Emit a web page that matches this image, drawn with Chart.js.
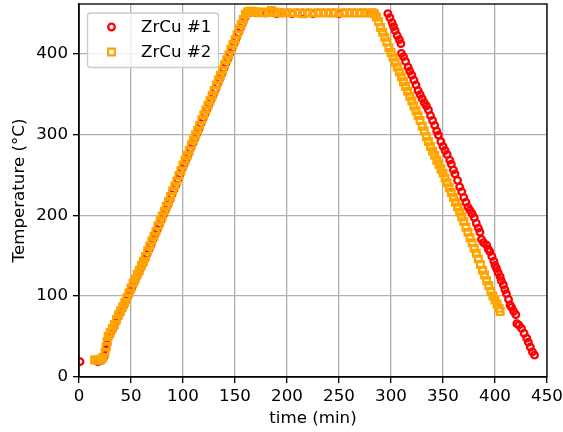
<!DOCTYPE html>
<html lang="en">
<head>
  <meta charset="UTF-8">
  <title>ZrCu temperature profile</title>
  <script src="https://cdn.jsdelivr.net/npm/chart.js"></script>
  <style>
    html, body {
      margin: 0;
      padding: 0;
      background-color: #ffffff;
    }
    .chart-box {
      width: 563px;
      height: 432px;
    }
  </style>
</head>
<body>

  <div class="chart-box">
    <canvas id="tempChart" width="563" height="432"></canvas>
  </div>

  <script>
    // ZrCu #1 (red circles)
    const time1 = [
      1, 18, 20, 22, 24, 26, 27,
      29, 31, 33, 35, 37, 39, 41, 43, 45, 47,
      49, 51, 53, 55, 57, 59, 61, 63, 65, 67,
      69, 71, 73, 75, 77, 79, 81, 83, 85, 87,
      89, 91, 93, 95, 97, 99, 101, 103, 105, 107,
      109, 111, 113, 115, 117, 119, 121, 123, 125, 127,
      129, 131, 133, 135, 137, 139, 141, 143, 145, 147,
      149, 151, 153, 155, 157, 159, 161, 163,
      166, 170, 175, 180, 185, 190, 195, 200, 205, 210,
      215, 220, 225, 230, 235, 240, 245, 250, 255, 260,
      265, 270, 275, 280, 284,
      297, 299, 301, 302.5, 304, 306, 308, 309.5,
      310, 312, 314, 316.5, 318, 320, 322, 324, 326, 328,
      330, 332, 334, 336, 338, 340, 342, 344, 345.5, 348,
      350, 352, 354, 356.5, 358, 360, 361.5, 364, 366, 368,
      370, 372, 374, 376, 378, 380, 382, 384, 385.5, 387,
      389, 392, 393.5, 395, 397, 399, 400, 401.5, 403, 405,
      406, 408, 409.5, 411, 413, 414.5, 416, 418, 420, 421,
      423, 425.5, 428, 430.5, 432, 434, 436, 438
    ];
    const temp1 = [
      19, 19, 20, 21, 25, 35, 41,
      51, 56, 61, 67, 73, 78, 83, 88, 94, 100,
      106, 111, 117, 123, 128, 134, 139, 145, 151, 157,
      163, 170, 176, 182, 188, 194, 200, 206, 212, 218,
      225, 231, 237, 244, 250, 257, 263, 269, 275, 282,
      288, 294, 300, 306, 313, 319, 325, 331, 337, 343,
      349, 355, 362, 368, 374, 381, 387, 393, 400, 406,
      412, 418, 425, 431, 437, 443, 448, 450,
      451, 450, 451, 450, 451, 449, 450, 450, 449, 450,
      450, 450, 449, 450, 450, 450, 450, 449, 450, 450,
      450, 450, 450, 450, 450,
      449, 444, 438, 433, 428, 422, 417, 412,
      400, 396, 390, 383, 378, 373, 367, 361, 354, 349,
      344, 339, 335, 330, 323, 317, 311, 304, 299, 291,
      285, 280, 275, 268, 263, 256, 251, 243, 235, 229,
      222, 216, 210, 206, 202, 197, 190, 184, 179, 170,
      166, 163, 158, 155, 149, 143, 138, 134, 129, 124,
      119, 114, 108, 103, 96, 89, 86, 81, 77, 66,
      64, 60, 54, 48, 43, 37, 31, 27
    ];

    // ZrCu #2 (orange squares)
    const time2 = [
      15, 17, 19, 21, 23, 25, 26, 27, 28,
      30, 32, 34, 36, 38, 40, 42, 44, 46, 48,
      50, 52, 54, 56, 58, 60, 62, 64, 66, 68,
      70, 72, 74, 76, 78, 80, 82, 84, 86, 88,
      90, 92, 94, 96, 98, 100, 102, 104, 106, 108,
      110, 112, 114, 116, 118, 120, 122, 124, 126, 128,
      130, 132, 134, 136, 138, 140, 142, 144, 146, 148,
      150, 152, 154, 156, 158, 160, 162,
      164, 166, 168, 170, 173, 176, 179, 182, 185, 188,
      192, 196, 200, 205, 210, 215, 220, 225, 230, 235,
      240, 245, 250, 255, 260, 265, 270, 275, 279, 282,
      284, 286, 288, 290, 292, 294, 296, 298, 300, 302,
      304, 306, 308, 310, 312, 314, 316, 318, 320, 322,
      324, 326, 328, 330, 332, 334, 336, 338, 340, 342,
      344, 346, 348, 350, 352, 354, 356, 358, 360, 362,
      364, 366, 368, 370, 372, 374, 376, 378, 380, 382,
      384, 386, 388, 390, 392, 394, 396, 398, 400, 402,
      404, 405
    ];
    const temp2 = [
      21, 21, 21, 22, 24, 30, 37, 44, 50,
      55, 60, 65, 71, 77, 82, 87, 92, 98, 104,
      110, 116, 121, 127, 132, 138, 143, 149, 156, 162,
      168, 174, 180, 187, 193, 199, 205, 211, 217, 223,
      230, 236, 242, 249, 255, 262, 268, 274, 280, 287,
      293, 299, 305, 311, 318, 324, 330, 336, 342, 348,
      354, 361, 367, 373, 379, 386, 392, 398, 405, 411,
      417, 423, 430, 436, 442, 448, 451,
      452, 452, 451, 451, 451, 450, 450, 451, 453, 451,
      450, 450, 450, 450, 450, 449, 450, 450, 450, 450,
      450, 450, 450, 450, 450, 450, 450, 450, 450, 450,
      449, 445, 439, 432, 426, 420, 414, 407, 401, 395,
      389, 383, 377, 371, 365, 359, 353, 347, 341, 335,
      329, 323, 317, 310, 304, 297, 291, 285, 279, 274,
      268, 263, 257, 252, 246, 240, 234, 228, 222, 216,
      210, 204, 198, 192, 185, 179, 172, 166, 159, 153,
      146, 139, 132, 126, 119, 113, 106, 100, 95, 90,
      85, 81
    ];

    const seriesNames = ['ZrCu #1', 'ZrCu #2'];
    const xTicks = [0, 50, 100, 150, 200, 250, 300, 350, 400, 450];
    const yTicks = [0, 100, 200, 300, 400];

    const FONT = 'DejaVu Sans';
    const FONT_SIZE = 16.67;

    function toPoints(xs, ys) {
      return xs.map((x, i) => ({ x: x, y: ys[i] }));
    }

    // matplotlib-style legend inside the axes, upper left
    const insideLegend = {
      id: 'insideLegend',
      afterDraw(chart) {
        const ctx = chart.ctx;
        const bx = 87.5, by = 13, bw = 131, bh = 54.5, r = 3;
        ctx.save();
        ctx.beginPath();
        ctx.moveTo(bx + r, by);
        ctx.arcTo(bx + bw, by, bx + bw, by + bh, r);
        ctx.arcTo(bx + bw, by + bh, bx, by + bh, r);
        ctx.arcTo(bx, by + bh, bx, by, r);
        ctx.arcTo(bx, by, bx + bw, by, r);
        ctx.closePath();
        ctx.fillStyle = 'rgba(255,255,255,0.8)';
        ctx.fill();
        ctx.strokeStyle = '#cccccc';
        ctx.lineWidth = 1.33;
        ctx.stroke();

        const rows = [27, 52];
        chart.data.datasets.forEach((ds, i) => {
          const y = rows[i];
          ctx.beginPath();
          ctx.lineWidth = ds.pointBorderWidth;
          ctx.strokeStyle = ds.pointBorderColor;
          if (ds.pointStyle === 'rect') {
            const h = ds.pointRadius * Math.SQRT1_2;
            ctx.rect(111.5 - h, y - h, 2 * h, 2 * h);
          } else {
            ctx.arc(111.5, y, ds.pointRadius, 0, Math.PI * 2);
          }
          ctx.stroke();
          ctx.fillStyle = '#000000';
          ctx.font = FONT_SIZE + 'px "' + FONT + '"';
          ctx.textBaseline = 'middle';
          ctx.textAlign = 'left';
          ctx.fillText(seriesNames[i], 141, y + 1);
        });
        ctx.restore();
      }
    };

    // box around the axes
    const axesFrame = {
      id: 'axesFrame',
      afterDatasetsDraw(chart) {
        const a = chart.chartArea;
        const ctx = chart.ctx;
        ctx.save();
        ctx.strokeStyle = '#000000';
        ctx.lineWidth = 1.33;
        ctx.strokeRect(a.left, a.top, a.right - a.left, a.bottom - a.top);
        ctx.restore();
      }
    };

    function noPadding(scale) {
      scale.paddingTop = 0;
      scale.paddingBottom = 0;
      scale.paddingLeft = 0;
      scale.paddingRight = 0;
    }

    const tickFont = { family: FONT, size: FONT_SIZE };

    const ctx = document.getElementById('tempChart').getContext('2d');
    const tempChart = new Chart(ctx, {
      type: 'scatter',
      data: {
        datasets: [
          {
            label: seriesNames[0],
            data: toPoints(time1, temp1),
            pointStyle: 'circle',
            pointRadius: 3.3,
            pointBorderWidth: 2.3,
            pointBorderColor: '#ff0000',
            pointBackgroundColor: 'rgba(0,0,0,0)',
            showLine: false,
            clip: 0,
            order: 2
          },
          {
            label: seriesNames[1],
            data: toPoints(time2, temp2),
            pointStyle: 'rect',
            pointRadius: 4.7,
            pointBorderWidth: 2.3,
            pointBorderColor: '#ffa500',
            pointBackgroundColor: 'rgba(0,0,0,0)',
            showLine: false,
            clip: 0,
            order: 1
          }
        ]
      },
      options: {
        responsive: false,
        animation: false,
        devicePixelRatio: 1,
        layout: { autoPadding: false, padding: { top: 4, right: 16, left: 0, bottom: 0 } },
        plugins: {
          legend: { display: false },
          tooltip: { enabled: false }
        },
        scales: {
          x: {
            type: 'linear',
            min: 0,
            max: 450,
            afterBuildTicks: s => { s.ticks = xTicks.map(v => ({ value: v })); },
            afterFit: s => { s.height = 55; noPadding(s); },
            grid: { color: '#b0b0b0', lineWidth: 1.33, tickColor: '#000000', tickLength: 6 },
            border: { color: '#000000', width: 1.33 },
            ticks: { color: '#000000', font: tickFont, padding: 4, maxRotation: 0, autoSkip: false },
            title: {
              display: true,
              text: 'time (min)',
              color: '#000000',
              font: tickFont,
              padding: { top: 0, bottom: 3 }
            }
          },
          y: {
            type: 'linear',
            min: 0,
            max: 461,
            afterBuildTicks: s => { s.ticks = yTicks.map(v => ({ value: v })); },
            afterFit: s => { s.width = 79; noPadding(s); },
            grid: { color: '#b0b0b0', lineWidth: 1.33, tickColor: '#000000', tickLength: 6 },
            border: { color: '#000000', width: 1.33 },
            ticks: { color: '#000000', font: tickFont, padding: 5, autoSkip: false },
            title: {
              display: true,
              text: 'Temperature (°C)',
              color: '#000000',
              font: tickFont,
              padding: { top: 10, bottom: 0 }
            }
          }
        }
      },
      plugins: [axesFrame, insideLegend]
    });
  </script>

</body>
</html>
